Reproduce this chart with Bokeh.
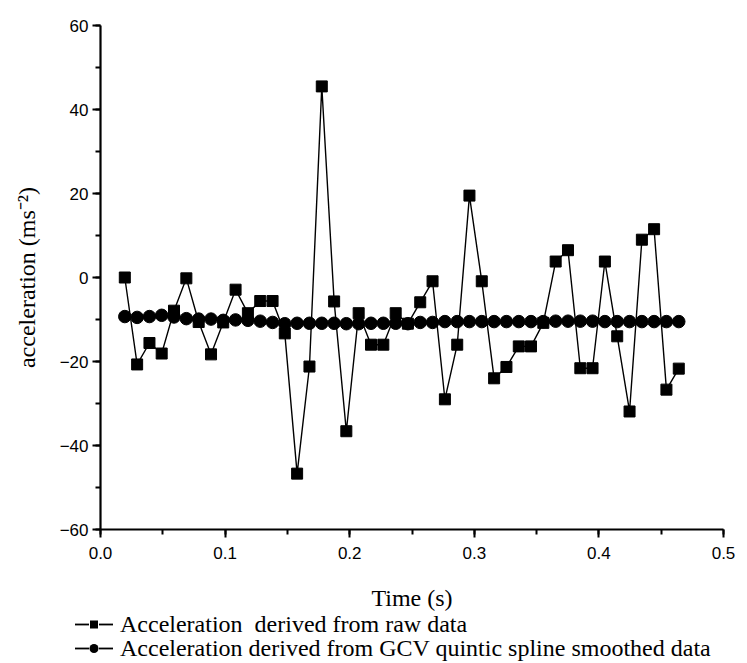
from bokeh.plotting import figure
from bokeh.layouts import column
from bokeh.models import Range1d, SingleIntervalTicker, NumeralTickFormatter, Div
from bokeh.embed import file_html
from bokeh.resources import INLINE

# ---- data ----
time_s = [0.0195, 0.0294, 0.0393, 0.0491, 0.0590, 0.0689, 0.0788, 0.0887, 0.0985, 0.1084,
          0.1183, 0.1282, 0.1381, 0.1479, 0.1578, 0.1677, 0.1776, 0.1875, 0.1973, 0.2072,
          0.2171, 0.2270, 0.2369, 0.2467, 0.2566, 0.2665, 0.2764, 0.2863, 0.2961, 0.3060,
          0.3159, 0.3258, 0.3357, 0.3455, 0.3554, 0.3653, 0.3752, 0.3851, 0.3949, 0.4048,
          0.4147, 0.4246, 0.4345, 0.4443, 0.4542, 0.4641]

acc_raw = [0.0, -20.7, -15.6, -18.1, -7.9, -0.2, -10.6, -18.3, -10.7, -2.9,
           -8.5, -5.6, -5.6, -13.3, -46.7, -21.2, 45.5, -5.7, -36.6, -8.5,
           -16.0, -16.0, -8.5, -11.0, -5.9, -0.9, -29.0, -16.0, 19.5, -0.9,
           -24.0, -21.3, -16.4, -16.4, -10.8, 3.8, 6.5, -21.6, -21.6, 3.8,
           -14.0, -31.9, 9.0, 11.5, -26.7, -21.7]

acc_smooth = [-9.3, -9.5, -9.3, -9.0, -9.4, -9.8, -9.9, -9.9, -10.2, -10.1,
              -10.2, -10.4, -10.7, -11.0, -10.9, -10.9, -10.9, -10.9, -11.0, -11.0,
              -10.9, -10.9, -10.9, -11.0, -10.7, -10.7, -10.5, -10.5, -10.5, -10.5,
              -10.5, -10.5, -10.5, -10.5, -10.5, -10.4, -10.4, -10.4, -10.4, -10.5,
              -10.5, -10.5, -10.5, -10.5, -10.5, -10.5]

label_raw = "Acceleration  derived from raw data"
label_smooth = "Acceleration derived from GCV quintic spline smoothed data"

x_label = "Time (s)"
y_label = "acceleration (ms\u207b\u00b2)"

SERIF = "Liberation Serif"
SANS = "Liberation Sans"

W = 747
H1 = 615
H2 = 48

p = figure(width=W, height=H1, output_backend="svg", toolbar_location=None,
           x_range=Range1d(0, 0.5), y_range=Range1d(-60, 60),
           min_border_left=100, min_border_right=W - 100 - 623, min_border_top=25,
           min_border_bottom=H1 - 25 - 504)
p.outline_line_color = None
p.grid.visible = False

p.xaxis.ticker = SingleIntervalTicker(interval=0.1, num_minor_ticks=2)
p.yaxis.ticker = SingleIntervalTicker(interval=20, num_minor_ticks=2)
p.xaxis.formatter = NumeralTickFormatter(format="0.0")

for ax in (p.xaxis, p.yaxis):
    ax.axis_line_width = 2.2
    ax.axis_line_color = "black"
    ax.major_tick_line_width = 2
    ax.minor_tick_line_width = 2
    ax.major_tick_out = 8
    ax.major_tick_in = 0
    ax.minor_tick_out = 5
    ax.minor_tick_in = 0
    ax.major_label_text_font = SANS
    ax.major_label_text_font_size = "17px"
    ax.major_label_text_color = "black"
    ax.axis_label_text_font = SERIF
    ax.axis_label_text_font_size = "24px"
    ax.axis_label_text_font_style = "normal"
    ax.axis_label_text_color = "black"

p.xaxis.axis_label = x_label
p.yaxis.axis_label = y_label
p.xaxis.major_label_standoff = 9
p.xaxis.axis_label_standoff = 23
p.yaxis.major_label_standoff = 4
p.yaxis.axis_label_standoff = 17

p.line(time_s, acc_raw, line_color="black", line_width=1.4)
p.scatter(time_s, acc_raw, marker="square", size=11, fill_color="black",
          line_color="black")
p.line(time_s, acc_smooth, line_color="black", line_width=1.4)
p.scatter(time_s, acc_smooth, marker="circle", size=12.5, fill_color="black",
          line_color="black")

# ---- legend strip below the plot (HTML, real text) ----
dashes = ('<line x1="1" y1="12.5" x2="15" y2="12.5" stroke="black" stroke-width="1.8"/>'
          '<line x1="25" y1="12.5" x2="39" y2="12.5" stroke="black" stroke-width="1.8"/>')
sym_square = ('<svg width="40" height="24" style="vertical-align:top;display:inline-block">'
              + dashes + '<rect x="16" y="8.5" width="8" height="8" fill="black"/></svg>')
sym_circle = ('<svg width="40" height="24" style="vertical-align:top;display:inline-block">'
              + dashes + '<circle cx="20" cy="12.5" r="4.5" fill="black"/></svg>')


def item(top, sym, text):
    return ('<div style="position:absolute;left:74px;top:%dpx;height:24px;'
            'line-height:24px;white-space:nowrap;">%s<span style="margin-left:6px;'
            'vertical-align:top">%s</span></div>' % (top, sym, text.replace("  ", "&nbsp; ")))


html = ('<div style="position:relative;width:%dpx;height:%dpx;'
        'font-family:\'Liberation Serif\';font-size:24px;color:black;">' % (W, H2)
        + item(-3, sym_square, label_raw)
        + item(21, sym_circle, label_smooth)
        + '</div>')

legend_div = Div(text=html, width=W, height=H2, margin=0)

layout = column(p, legend_div, spacing=0)
open("out.html", "w").write(file_html(layout, INLINE))
